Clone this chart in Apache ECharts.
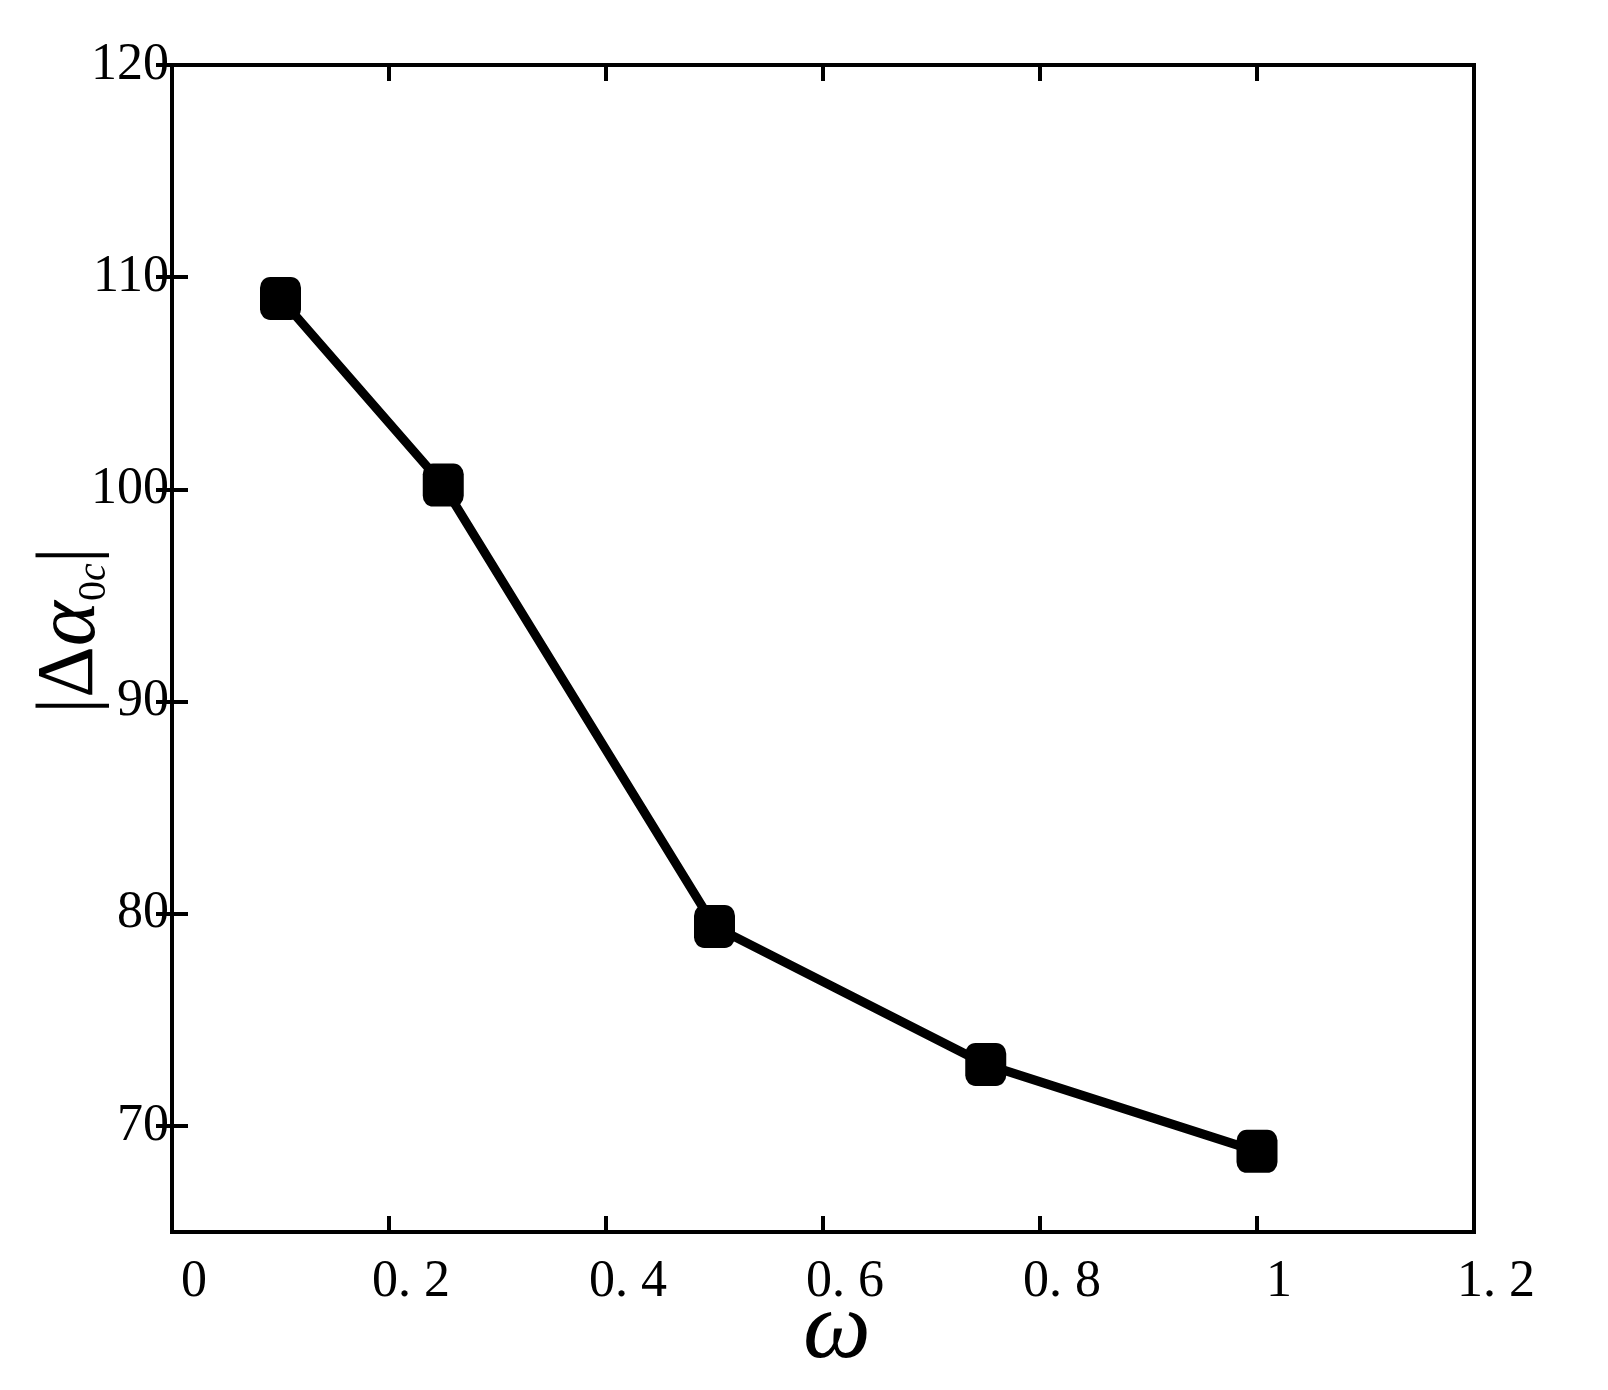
<!DOCTYPE html>
<html>
<head>
<meta charset="utf-8">
<script src="https://cdn.jsdelivr.net/npm/echarts@6/dist/echarts.min.js"></script>
<style>
  html, body { margin: 0; padding: 0; background: #fff; }
  #chart { width: 1608px; height: 1390px; }
</style>
</head>
<body>
<div id="chart"></div>
<script>
// data
const omega = [0.1, 0.25, 0.5, 0.75, 1.0];
const deltaAlpha = [109.0, 100.2, 79.4, 72.9, 68.8];
const yTicks = [70, 80, 90, 100, 110, 120];

const font = "'Liberation Serif', 'DejaVu Serif', serif";

const fmtX = v => {
  const r = Math.round(v * 10) / 10;
  if (Number.isInteger(r)) return String(r);
  return r.toFixed(1).replace(".", ". ");
};

const chart = echarts.init(document.getElementById("chart"));
chart.setOption({
  animation: false,
  backgroundColor: "#fff",
  grid: {
    left: 172,
    right: 134,
    top: 65,
    bottom: 158,
    containLabel: false,
    outerBoundsMode: "none",
    show: true,
    borderColor: "#000",
    borderWidth: 4
  },
  xAxis: [
    {
      type: "value",
      min: 0,
      max: 1.2,
      interval: 0.2,
      name: "ω",
      nameLocation: "middle",
      nameGap: 52,
      nameMoveOverlap: false,
      nameTextStyle: {
        fontFamily: font,
        fontStyle: "italic",
        fontSize: 96,
        color: "#000",
        padding: [0, 0, 0, 28]
      },
      axisLine: { show: true, lineStyle: { color: "#000", width: 4 } },
      axisTick: { show: true, inside: true, length: 16, lineStyle: { color: "#000", width: 4 } },
      axisLabel: {
        margin: 24,
        fontFamily: font,
        fontSize: 52,
        color: "#000",
        padding: [0, 0, 0, 44],
        formatter: fmtX
      },
      splitLine: { show: false }
    },
    {
      type: "value",
      position: "top",
      min: 0,
      max: 1.2,
      interval: 0.2,
      axisLine: { show: true, lineStyle: { color: "#000", width: 4 } },
      axisTick: { show: true, inside: true, length: 16, lineStyle: { color: "#000", width: 4 } },
      axisLabel: { show: false },
      splitLine: { show: false }
    }
  ],
  yAxis: [
    {
      type: "value",
      min: 65,
      max: 120,
      name: "{t||Δ}{a|α}{s|0}{c|c}{t||}",
      nameLocation: "middle",
      nameRotate: 90,
      nameGap: 58,
      nameMoveOverlap: false,
      nameTextStyle: {
        color: "#000",
        padding: [0, 0, 0, 36],
        rich: {
          t: { fontFamily: font, fontSize: 80, lineHeight: 86, verticalAlign: "middle", color: "#000" },
          a: { fontFamily: font, fontSize: 86, fontStyle: "italic", lineHeight: 86, verticalAlign: "middle", color: "#000" },
          s: { fontFamily: font, fontSize: 40, lineHeight: 36, verticalAlign: "bottom", color: "#000" },
          c: { fontFamily: font, fontSize: 40, fontStyle: "italic", lineHeight: 36, verticalAlign: "bottom", color: "#000" }
        }
      },
      axisLine: { show: true, lineStyle: { color: "#000", width: 4 } },
      axisTick: {
        show: true, inside: true, length: 16,
        customValues: yTicks,
        lineStyle: { color: "#000", width: 4 }
      },
      axisLabel: {
        margin: 3,
        fontFamily: font,
        fontSize: 52,
        color: "#000",
        customValues: yTicks
      },
      splitLine: { show: false }
    },
    {
      type: "value",
      position: "right",
      min: 65,
      max: 120,
      axisLine: { show: true, lineStyle: { color: "#000", width: 4 } },
      axisTick: {
        show: true, inside: true, length: 16,
        customValues: yTicks,
        lineStyle: { color: "#000", width: 4 }
      },
      axisLabel: { show: false },
      splitLine: { show: false }
    }
  ],
  series: [
    {
      type: "line",
      xAxisIndex: 0,
      yAxisIndex: 0,
      data: omega.map((x, i) => [x, deltaAlpha[i]]),
      symbol: "roundRect",
      symbolSize: [41, 43],
      showSymbol: true,
      itemStyle: { color: "#000" },
      lineStyle: { color: "#000", width: 9 },
      z: 3
    }
  ]
});
</script>
</body>
</html>
